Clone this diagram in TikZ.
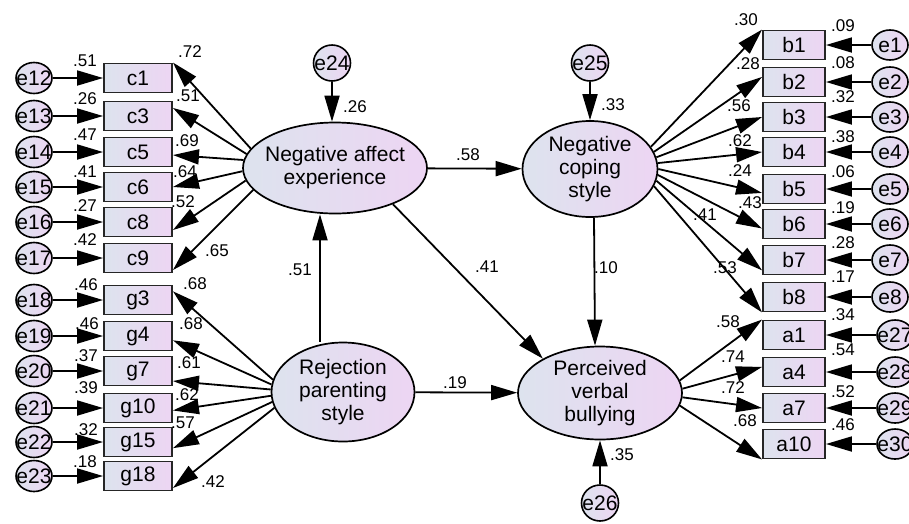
\documentclass[tikz,border=0pt]{standalone}
\usepackage{fontspec}
\setmainfont{Liberation Sans}
\usetikzlibrary{arrows.meta,shapes.geometric}
\definecolor{bl}{RGB}{221,227,238}
\definecolor{pk}{RGB}{237,213,243}
\tikzset{
  ln/.style={line width=1.8pt, draw=black},
  arr/.style={ln, -{Triangle[length=26pt,width=15pt]}},
  obs/.style={draw=black!85, line width=1.9pt, rectangle, minimum width=68pt,
    minimum height=29pt, inner sep=0pt, left color=bl, right color=pk,
    font=\fontsize{21}{21}\selectfont},
  obsr/.style={obs, minimum width=62pt},
  err/.style={draw=black, line width=1.6pt, ellipse, minimum width=36pt,
    minimum height=31pt, inner sep=0pt, left color=bl, right color=pk},
  efont/.style={font=\fontsize{21}{21}\selectfont, inner sep=0pt},
  lat/.style={draw=black, line width=1.7pt, ellipse, inner sep=0pt,
    left color=bl, right color=pk},
  lfont/.style={font=\fontsize{21}{23}\selectfont, align=center, inner sep=0pt},
  lab/.style={font=\fontsize{17}{17}\selectfont, inner sep=0pt}
}
\begin{document}
\begin{tikzpicture}[x=1pt,y=-1pt]
\useasboundingbox (0,0) rectangle (909,523);

% latent variables
\node[lat, minimum width=184pt, minimum height=91pt,
  label={[lfont]center:Negative affect\\experience}] (NAE) at (335,168) {};
\node[lat, minimum width=135pt, minimum height=96pt,
  label={[lfont]center:Negative\\coping\\style}] (NCS) at (590,169) {};
\node[lat, minimum width=143pt, minimum height=99pt,
  label={[lfont]center:Rejection\\parenting\\style}] (RPS) at (343,392) {};
\node[lat, minimum width=164pt, minimum height=93pt,
  label={[lfont]center:Perceived\\verbal\\bullying}] (PVB) at (600,393) {};

% disturbances
\node[err, minimum width=37pt, minimum height=36pt, label={[efont]center:e24}] (e24) at (332,63) {};
\node[err, minimum width=37pt, minimum height=36pt, label={[efont]center:e25}] (e25) at (590,63) {};
\node[err, minimum width=37pt, minimum height=36pt, label={[efont]center:e26}] (e26) at (600,503) {};

% left indicators
\foreach \nm/\en/\y in {c1/e12/78, c3/e13/116, c5/e14/152, c6/e15/187, c8/e16/222, c9/e17/258,
  g3/e18/300, g4/e19/336, g7/e20/371, g10/e21/408, g15/e22/442, g18/e23/476}{
  \node[obs] (\nm) at (138,\y) {\nm};
  \node[err, label={[efont]center:\en}] (\en) at (34,\y) {};
  \draw[arr] (\en) -- (\nm);
}

% right indicators
\foreach \nm/\en/\y/\ex in {b1/e1/45/890, b2/e2/82/890, b3/e3/117/890, b4/e4/152/890,
  b5/e5/189/890, b6/e6/224/890, b7/e7/260/890, b8/e8/297/890,
  a1/e27/335/895, a4/e28/372/895, a7/e29/408/895, a10/e30/444/895}{
  \node[obsr] (\nm) at (794,\y) {\nm};
  \node[err, minimum height=30pt, label={[efont]center:\en}] (\en) at (\ex,\y) {};
  \draw[arr] (\en) -- (\nm);
}

% loadings from Negative affect experience
\draw[arr] (NAE.167) -- (c1.north east);
\draw[arr] (NAE.171) -- (c3.13);
\draw[arr] (NAE.175) -- (c5.-5);
\draw[arr] (NAE.182) -- (c6.east);
\draw[arr] (NAE.188) -- (c8.-13);
\draw[arr] (NAE.195) -- (c9.-19);

% loadings from Rejection parenting style
\draw[arr] (RPS.170) -- (g3.14);
\draw[arr] (RPS.174) -- (g4.-7);
\draw[arr] (RPS.178) -- (g7.-16);
\draw[arr] (RPS.183) -- (g10.-4);
\draw[arr] (RPS.188) -- (g15.-10);
\draw[arr] (RPS.193) -- (g18.-19);

% loadings from Negative coping style
\draw[arr] (NCS.20) -- (b1.north west);
\draw[arr] (NCS.15) -- (b2.171);
\draw[arr] (NCS.10) -- (b3.west);
\draw[arr] (NCS.5) -- (b4.west);
\draw[arr] (NCS.0) -- (b5.187);
\draw[arr] (NCS.-5) -- (b6.188);
\draw[arr] (NCS.-10) -- (b7.198);
\draw[arr] (NCS.-15) -- (b8.south west);

% loadings from Perceived verbal bullying
\draw[arr] (PVB.9.5) -- (a1.north west);
\draw[arr] (PVB.3.6) -- (a4.171);
\draw[arr] (PVB.-3.6) -- (a7.west);
\draw[arr] (PVB.-9) -- (a10.south west);

% structural paths
\draw[arr] (e24) -- (e24 |- NAE.north);
\draw[arr] (e25) -- (NCS);
\draw[arr] (e26) -- (PVB);
\draw[arr] (NAE) -- (NCS);
\draw[arr] ([xshift=-23pt]RPS.north) -- ([xshift=-15pt]NAE.south);
\draw[arr] (NAE.-32) -- (PVB.149);
\draw[arr] ([xshift=4pt]NCS.south) -- ([xshift=-5pt]PVB.north);
\draw[arr] (RPS) -- (PVB);

% left residual labels
\foreach \t/\x/\y in {.51/85/61, .26/85/99, .47/85/135, .41/85/172, .27/85/206, .42/85/240,
  .46/86/285, .46/87/324, .37/86/356, .39/86/388, .32/86/430, .18/85/462}{
  \node[lab] at (\x,\y) {\t};
}
% left loading labels
\foreach \t/\x/\y in {.72/190/52, .51/188/96, .69/187/141, .64/185/172, .52/183/202, .65/217/251,
  .68/195/284, .68/191/324, .61/189/363, .62/187/395, .57/183/423, .42/213/482}{
  \node[lab] at (\x,\y) {\t};
}
% structural labels
\node[lab] at (355,107) {.26};
\node[lab] at (468,155) {.58};
\node[lab] at (300,270) {.51};
\node[lab] at (487,267) {.41};
\node[lab] at (606,268) {.10};
\node[lab] at (455,383) {.19};
\node[lab] at (613,105) {.33};
\node[lab] at (622,455) {.35};
% right loading labels
\foreach \t/\x/\y in {.30/746/20, .28/748/64, .56/739/106, .62/740/141, .24/740/171, .43/750/203,
  .41/705/215, .53/725/268, .58/728/322, .74/733/357, .72/733/388, .68/745/421}{
  \node[lab] at (\x,\y) {\t};
}
% right residual labels
\foreach \t/\y in {.09/26, .08/63, .32/97, .38/137, .06/172, .19/208, .28/243, .17/277,
  .34/315, .54/350, .52/392, .46/425}{
  \node[lab] at (843,\y) {\t};
}
\end{tikzpicture}
\end{document}
